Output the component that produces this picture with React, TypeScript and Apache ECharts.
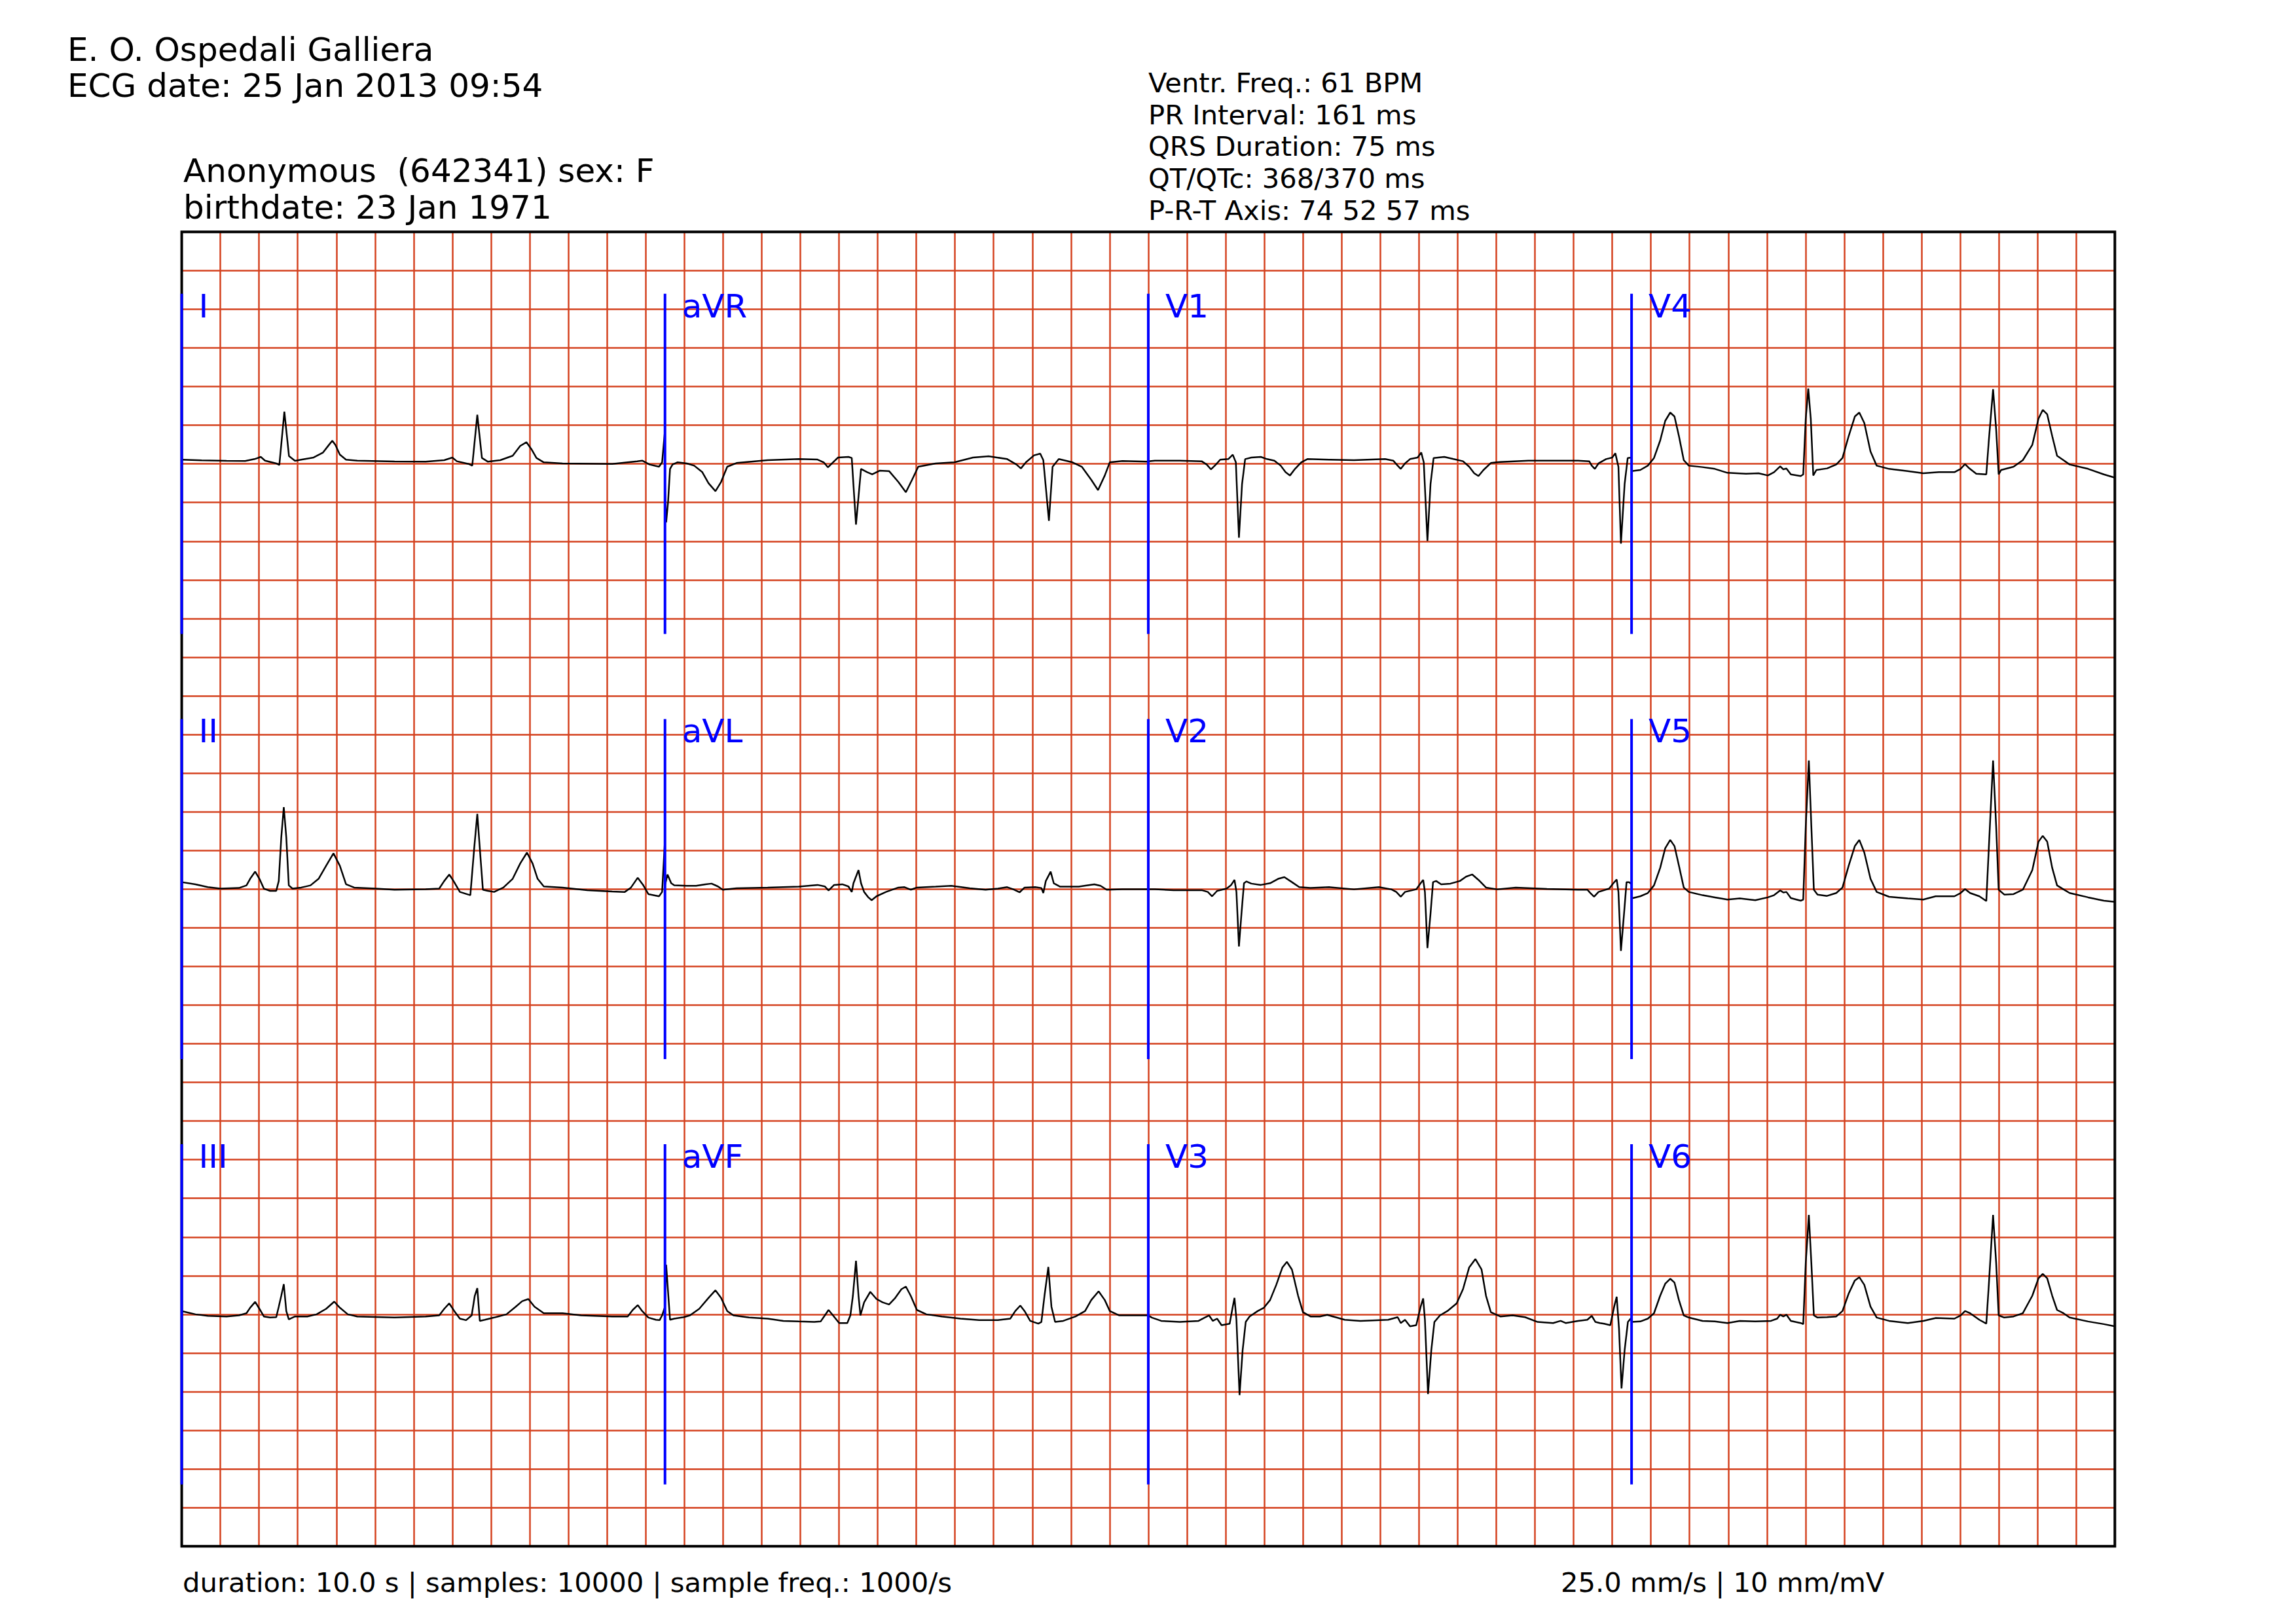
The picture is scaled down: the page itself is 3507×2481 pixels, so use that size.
import React, { useEffect, useRef } from 'react';
import * as echarts from 'echarts';

// ---- Layout of leads (rows x columns) ----
const layoutRows: string[][] = [
  ['I', 'aVR', 'V1', 'V4'],
  ['II', 'aVL', 'V2', 'V5'],
  ['III', 'aVF', 'V3', 'V6'],
];

// ---- Trace data: [seconds from column start, mV relative to lead baseline] ----
const leadI = [[0,0.054],[0.103,0.045],[0.232,0.04],[0.328,0.037],[0.377,0.062],[0.409,0.09],[0.431,0.042],[0.489,0.006],[0.505,-0.014],[0.531,0.675],[0.555,0.10],[0.586,0.04],[0.618,0.054],[0.682,0.082],[0.731,0.147],[0.763,0.25],[0.779,0.30],[0.795,0.245],[0.818,0.12],[0.85,0.054],[0.908,0.042],[1.101,0.031],[1.262,0.028],[1.358,0.048],[1.40,0.082],[1.423,0.034],[1.487,-0.003],[1.503,-0.023],[1.529,0.636],[1.553,0.076],[1.584,0.028],[1.648,0.048],[1.712,0.105],[1.751,0.232],[1.783,0.28],[1.809,0.19],[1.835,0.076],[1.873,0.02],[1.97,0.006],[2.227,0],[2.356,0.034],[2.382,0.042],[2.42,-0.008],[2.469,-0.037],[2.485,0.02],[2.5,0.44]];
const leadAVR = [[0,-0.3],[0.006,-0.757],[0.016,-0.489],[0.026,-0.065],[0.039,-0.008],[0.064,0.02],[0.113,0.006],[0.151,-0.023],[0.193,-0.107],[0.225,-0.249],[0.261,-0.353],[0.29,-0.234],[0.322,-0.037],[0.37,0.011],[0.531,0.048],[0.692,0.062],[0.789,0.056],[0.821,0.02],[0.843,-0.045],[0.869,0.02],[0.895,0.082],[0.949,0.09],[0.966,0.076],[0.988,-0.785],[1.014,-0.065],[1.046,-0.107],[1.072,-0.136],[1.11,-0.088],[1.159,-0.093],[1.207,-0.234],[1.246,-0.367],[1.278,-0.206],[1.31,-0.037],[1.40,0.006],[1.497,0.02],[1.593,0.082],[1.674,0.099],[1.77,0.062],[1.818,-0.008],[1.841,-0.059],[1.867,0.02],[1.909,0.11],[1.941,0.133],[1.957,0.048],[1.986,-0.737],[2.005,-0.037],[2.037,0.062],[2.108,0.02],[2.156,-0.037],[2.205,-0.206],[2.24,-0.339],[2.275,-0.15],[2.301,0.02],[2.366,0.037],[2.5,0.028]];
const leadV1 = [[0,0.034],[0.034,0.042],[0.163,0.042],[0.276,0.034],[0.302,-0.008],[0.324,-0.071],[0.35,-0.008],[0.372,0.054],[0.414,0.062],[0.437,0.119],[0.453,0.02],[0.469,-0.955],[0.485,-0.263],[0.501,0.062],[0.533,0.082],[0.582,0.09],[0.614,0.062],[0.652,0.042],[0.685,-0.023],[0.71,-0.107],[0.733,-0.15],[0.759,-0.065],[0.791,0.02],[0.823,0.062],[0.936,0.054],[1.064,0.048],[1.225,0.062],[1.267,0.042],[1.29,-0.023],[1.306,-0.065],[1.328,0.006],[1.354,0.062],[1.393,0.082],[1.412,0.147],[1.425,0.02],[1.444,-0.997],[1.46,-0.263],[1.476,0.076],[1.531,0.09],[1.579,0.062],[1.628,0.034],[1.66,-0.037],[1.686,-0.121],[1.708,-0.158],[1.734,-0.079],[1.772,0.011],[1.821,0.025],[1.966,0.042],[2.223,0.042],[2.281,0.034],[2.294,-0.023],[2.31,-0.065],[2.329,0.006],[2.368,0.062],[2.40,0.082],[2.416,0.138],[2.432,-0.037],[2.445,-1.031],[2.464,-0.263],[2.48,0.076],[2.5,0.082]];
const leadV4 = [[0,-0.093],[0.045,-0.079],[0.084,-0.023],[0.116,0.076],[0.148,0.302],[0.174,0.556],[0.2,0.664],[0.222,0.613],[0.245,0.359],[0.27,0.048],[0.296,-0.023],[0.367,-0.042],[0.431,-0.065],[0.496,-0.116],[0.592,-0.127],[0.657,-0.121],[0.705,-0.15],[0.737,-0.107],[0.769,-0.031],[0.785,-0.071],[0.801,-0.059],[0.824,-0.136],[0.875,-0.158],[0.888,-0.136],[0.901,0.585],[0.914,0.975],[0.927,0.585],[0.94,-0.15],[0.956,-0.079],[1.011,-0.059],[1.059,-0.008],[1.091,0.076],[1.123,0.359],[1.155,0.613],[1.178,0.664],[1.204,0.528],[1.236,0.161],[1.268,-0.023],[1.332,-0.065],[1.429,-0.093],[1.509,-0.121],[1.59,-0.107],[1.67,-0.107],[1.702,-0.065],[1.725,-0.003],[1.744,-0.051],[1.783,-0.127],[1.835,-0.136],[1.848,0.302],[1.87,0.966],[1.886,0.444],[1.899,-0.136],[1.912,-0.079],[1.976,-0.037],[2.024,0.048],[2.073,0.246],[2.105,0.585],[2.127,0.698],[2.15,0.641],[2.176,0.359],[2.201,0.105],[2.234,0.048],[2.266,-0.008],[2.362,-0.065],[2.443,-0.136],[2.5,-0.178]];
const leadII = [[0,0.09],[0.071,0.062],[0.135,0.025],[0.2,0.006],[0.296,0.014],[0.335,0.048],[0.354,0.133],[0.38,0.226],[0.402,0.133],[0.425,0.006],[0.457,-0.023],[0.489,-0.023],[0.502,0.105],[0.515,0.669],[0.528,1.059],[0.541,0.669],[0.554,0.048],[0.573,0.006],[0.618,0.02],[0.666,0.048],[0.708,0.133],[0.747,0.302],[0.785,0.463],[0.818,0.302],[0.85,0.062],[0.892,0.02],[1.004,0.006],[1.101,-0.008],[1.262,-0.003],[1.332,0.006],[1.358,0.105],[1.384,0.189],[1.406,0.105],[1.439,-0.037],[1.493,-0.079],[1.513,0.528],[1.529,0.972],[1.542,0.528],[1.558,-0.008],[1.584,-0.023],[1.616,-0.037],[1.664,0.02],[1.712,0.133],[1.751,0.331],[1.786,0.472],[1.815,0.331],[1.841,0.133],[1.873,0.034],[1.97,0.02],[2.098,-0.014],[2.227,-0.031],[2.292,-0.037],[2.324,0.02],[2.359,0.147],[2.388,0.048],[2.414,-0.065],[2.469,-0.093],[2.485,-0.037],[2.5,0.65]];
const leadAVL = [[0,0.05],[0.013,0.189],[0.032,0.076],[0.048,0.048],[0.113,0.042],[0.161,0.042],[0.209,0.062],[0.241,0.071],[0.274,0.034],[0.299,-0.008],[0.37,0.011],[0.531,0.02],[0.692,0.031],[0.789,0.054],[0.827,0.034],[0.846,-0.017],[0.875,0.054],[0.917,0.062],[0.949,0.034],[0.966,-0.037],[0.975,0.076],[1.001,0.246],[1.014,0.076],[1.03,-0.037],[1.052,-0.107],[1.069,-0.144],[1.094,-0.093],[1.143,-0.037],[1.207,0.02],[1.239,0.025],[1.271,-0.008],[1.303,0.02],[1.4,0.031],[1.481,0.042],[1.577,0.011],[1.658,-0.008],[1.722,0.006],[1.77,0.025],[1.802,-0.003],[1.834,-0.042],[1.86,0.02],[1.915,0.025],[1.947,0.014],[1.957,-0.051],[1.97,0.105],[1.995,0.226],[2.011,0.076],[2.044,0.031],[2.14,0.031],[2.221,0.062],[2.253,0.042],[2.285,-0.008],[2.366,-0.003],[2.5,-0.003]];
const leadV2 = [[0,-0.003],[0.034,-0.003],[0.131,-0.014],[0.276,-0.014],[0.308,-0.037],[0.33,-0.093],[0.356,-0.023],[0.405,0.006],[0.427,0.048],[0.446,0.119],[0.456,-0.037],[0.469,-0.743],[0.482,-0.319],[0.495,0.076],[0.508,0.099],[0.533,0.071],[0.582,0.054],[0.63,0.076],[0.672,0.133],[0.704,0.155],[0.743,0.09],[0.781,0.025],[0.839,0.014],[0.936,0.025],[1.064,-0.003],[1.193,0.025],[1.257,-0.003],[1.283,-0.037],[1.306,-0.099],[1.328,-0.037],[1.386,-0.003],[1.409,0.076],[1.422,0.119],[1.431,-0.037],[1.444,-0.763],[1.46,-0.319],[1.473,0.09],[1.489,0.105],[1.515,0.062],[1.563,0.071],[1.612,0.105],[1.644,0.161],[1.676,0.189],[1.708,0.119],[1.747,0.02],[1.805,-0.003],[1.901,0.02],[2.062,0.003],[2.223,-0.008],[2.271,-0.008],[2.287,-0.051],[2.306,-0.099],[2.329,-0.037],[2.384,0.006],[2.406,0.076],[2.423,0.124],[2.432,-0.037],[2.445,-0.799],[2.461,-0.319],[2.474,0.09],[2.487,0.09],[2.5,0.062]];
const leadV5 = [[0,-0.121],[0.045,-0.093],[0.084,-0.051],[0.116,0.048],[0.148,0.274],[0.174,0.528],[0.2,0.636],[0.222,0.556],[0.245,0.302],[0.27,0.02],[0.296,-0.037],[0.367,-0.079],[0.431,-0.107],[0.496,-0.136],[0.56,-0.121],[0.64,-0.144],[0.705,-0.107],[0.737,-0.079],[0.769,-0.017],[0.785,-0.045],[0.801,-0.037],[0.824,-0.116],[0.875,-0.15],[0.888,-0.136],[0.901,0.811],[0.917,1.664],[0.93,0.811],[0.943,-0.008],[0.962,-0.071],[1.011,-0.088],[1.059,-0.051],[1.091,0.02],[1.123,0.302],[1.155,0.556],[1.178,0.636],[1.204,0.472],[1.236,0.133],[1.268,-0.037],[1.332,-0.099],[1.429,-0.121],[1.509,-0.136],[1.573,-0.093],[1.67,-0.093],[1.702,-0.051],[1.725,0],[1.751,-0.051],[1.799,-0.093],[1.835,-0.155],[1.848,0.528],[1.87,1.664],[1.886,0.811],[1.899,-0.008],[1.928,-0.071],[1.976,-0.065],[2.024,-0.008],[2.073,0.246],[2.105,0.613],[2.127,0.689],[2.15,0.613],[2.176,0.274],[2.201,0.048],[2.234,-0.003],[2.266,-0.051],[2.362,-0.107],[2.443,-0.15],[2.5,-0.164]];
const leadIII = [[0,0.042],[0.071,0],[0.135,-0.02],[0.232,-0.028],[0.296,-0.014],[0.335,0.014],[0.354,0.085],[0.38,0.161],[0.402,0.071],[0.425,-0.028],[0.457,-0.042],[0.489,-0.037],[0.502,0.099],[0.515,0.24],[0.528,0.39],[0.541,0.042],[0.554,-0.065],[0.586,-0.028],[0.65,-0.028],[0.698,0],[0.747,0.071],[0.789,0.164],[0.818,0.085],[0.859,0],[0.908,-0.028],[1.004,-0.034],[1.101,-0.042],[1.262,-0.028],[1.332,-0.014],[1.358,0.071],[1.384,0.141],[1.41,0.042],[1.439,-0.056],[1.471,-0.076],[1.5,-0.014],[1.516,0.24],[1.529,0.339],[1.542,-0.085],[1.568,-0.071],[1.616,-0.042],[1.68,0],[1.728,0.099],[1.761,0.169],[1.793,0.198],[1.825,0.099],[1.873,0.014],[1.97,0.014],[2.066,-0.014],[2.227,-0.028],[2.307,-0.028],[2.333,0.056],[2.359,0.119],[2.382,0.042],[2.414,-0.042],[2.453,-0.071],[2.472,-0.076],[2.485,-0.014],[2.5,0.1]];
const leadAVF = [[0,0.1],[0.006,0.641],[0.026,-0.071],[0.048,-0.056],[0.097,-0.037],[0.129,-0.014],[0.177,0.071],[0.225,0.212],[0.261,0.311],[0.29,0.212],[0.322,0.042],[0.354,-0.014],[0.435,-0.042],[0.531,-0.056],[0.612,-0.085],[0.692,-0.093],[0.772,-0.099],[0.805,-0.093],[0.827,-0.014],[0.846,0.056],[0.869,-0.014],[0.901,-0.113],[0.943,-0.113],[0.959,-0.014],[0.972,0.24],[0.988,0.692],[1.001,0.24],[1.011,-0.014],[1.03,0.155],[1.062,0.291],[1.094,0.198],[1.126,0.155],[1.159,0.127],[1.191,0.212],[1.223,0.325],[1.246,0.359],[1.271,0.24],[1.303,0.056],[1.352,0],[1.432,-0.028],[1.529,-0.056],[1.625,-0.076],[1.722,-0.076],[1.786,-0.056],[1.812,0.042],[1.838,0.113],[1.86,0.042],[1.889,-0.085],[1.931,-0.121],[1.947,-0.099],[1.963,0.24],[1.983,0.613],[1.999,0.099],[2.018,-0.099],[2.06,-0.085],[2.124,-0.028],[2.173,0.042],[2.205,0.184],[2.243,0.297],[2.275,0.184],[2.301,0.042],[2.35,-0.014],[2.43,-0.014],[2.5,-0.014]];
const leadV3 = [[0,-0.014],[0.018,-0.042],[0.067,-0.085],[0.163,-0.099],[0.26,-0.085],[0.292,-0.042],[0.314,-0.014],[0.334,-0.085],[0.356,-0.056],[0.379,-0.141],[0.421,-0.121],[0.437,0.099],[0.446,0.212],[0.456,-0.071],[0.472,-1.045],[0.488,-0.466],[0.504,-0.099],[0.524,-0.028],[0.566,0.042],[0.598,0.085],[0.63,0.184],[0.662,0.381],[0.694,0.607],[0.717,0.678],[0.743,0.579],[0.775,0.24],[0.8,0.028],[0.839,-0.028],[0.887,-0.028],[0.926,-0.008],[0.968,-0.037],[1.016,-0.071],[1.097,-0.085],[1.241,-0.071],[1.29,-0.037],[1.306,-0.113],[1.328,-0.071],[1.354,-0.155],[1.386,-0.141],[1.409,0.099],[1.422,0.206],[1.431,-0.071],[1.447,-1.031],[1.464,-0.466],[1.48,-0.099],[1.509,-0.014],[1.547,0.042],[1.595,0.141],[1.628,0.325],[1.66,0.607],[1.692,0.715],[1.724,0.579],[1.747,0.24],[1.772,0.028],[1.821,-0.028],[1.885,-0.014],[1.949,-0.037],[2.014,-0.099],[2.094,-0.113],[2.133,-0.085],[2.159,-0.113],[2.223,-0.085],[2.271,-0.071],[2.294,-0.02],[2.313,-0.099],[2.336,-0.113],[2.358,-0.121],[2.39,-0.141],[2.41,0.099],[2.423,0.226],[2.435,-0.184],[2.448,-0.96],[2.464,-0.466],[2.481,-0.099],[2.5,-0.042]];
const leadV6 = [[0,-0.099],[0.045,-0.093],[0.084,-0.056],[0.116,0.014],[0.148,0.24],[0.174,0.395],[0.2,0.46],[0.222,0.41],[0.245,0.184],[0.27,-0.014],[0.296,-0.042],[0.367,-0.085],[0.431,-0.093],[0.496,-0.113],[0.56,-0.085],[0.64,-0.093],[0.721,-0.085],[0.753,-0.056],[0.769,-0.006],[0.785,-0.028],[0.801,-0.006],[0.824,-0.085],[0.875,-0.113],[0.888,-0.127],[0.901,0.664],[0.917,1.285],[0.93,0.664],[0.943,-0.014],[0.962,-0.042],[1.011,-0.037],[1.059,-0.028],[1.091,0.042],[1.123,0.268],[1.155,0.438],[1.178,0.48],[1.204,0.381],[1.236,0.099],[1.268,-0.042],[1.332,-0.085],[1.429,-0.113],[1.509,-0.085],[1.574,-0.048],[1.67,-0.056],[1.702,-0.014],[1.725,0.042],[1.751,0.014],[1.799,-0.071],[1.835,-0.121],[1.848,0.381],[1.87,1.285],[1.886,0.664],[1.899,-0.014],[1.928,-0.042],[1.976,-0.028],[2.024,0.014],[2.073,0.24],[2.105,0.466],[2.127,0.523],[2.15,0.466],[2.176,0.24],[2.201,0.056],[2.234,0.014],[2.266,-0.042],[2.362,-0.093],[2.443,-0.127],[2.5,-0.155]];

const leadData: Record<string, number[][]> = {
  I: leadI, aVR: leadAVR, V1: leadV1, V4: leadV4,
  II: leadII, aVL: leadAVL, V2: leadV2, V5: leadV5,
  III: leadIII, aVF: leadAVF, V3: leadV3, V6: leadV6,
};

// ---- Texts ----
const headerLines = ['E. O. Ospedali Galliera', 'ECG date: 25 Jan 2013 09:54'];
const patientLines = ['Anonymous  (642341) sex: F', 'birthdate: 23 Jan 1971'];
const measurementLines = ['Ventr. Freq.: 61 BPM', 'PR Interval: 161 ms', 'QRS Duration: 75 ms', 'QT/QTc: 368/370 ms', 'P-R-T Axis: 74 52 57 ms'];
const footerLeft = 'duration: 10.0 s | samples: 10000 | sample freq.: 1000/s';
const footerRight = '25.0 mm/s | 10 mm/mV';

// ---- Paper scales ----
const TOTAL_SECONDS = 10;
const COLUMN_SECONDS = 2.5;
const TOTAL_MV = 17;
const ROW_BASELINES = [14, 8.5, 3];
const MARKER_HALF = 2.2;

const W = 3507;
const H = 2481;
const PX_MM = 300 / 25.4;
const FONT = '"DejaVu Sans", sans-serif';
const GRID_RED = '#d4421f';
const CENTRAL = 0.346;

function textEl(x: number, baseline: number, text: string, fs: number, color = '#000') {
  return {
    type: 'text',
    x,
    y: baseline - CENTRAL * fs,
    z: 20,
    style: {
      text,
      fill: color,
      fontSize: fs,
      fontFamily: FONT,
      align: 'left',
      textAlign: 'left',
      verticalAlign: 'middle',
      textVerticalAlign: 'middle',
    },
  };
}

export default function App() {
  const ref = useRef<HTMLDivElement>(null);
  useEffect(() => {
    if (!ref.current) return;
    const chart = echarts.init(ref.current, null, { renderer: 'svg', width: W, height: H });
    const gridLeft = 23.5 * PX_MM;
    const gridTop = 30 * PX_MM;
    const gridW = 250 * PX_MM;
    const gridH = 170 * PX_MM;

    const series: any[] = [];
    layoutRows.forEach((row, r) => {
      row.forEach((name, c) => {
        const x0 = c * COLUMN_SECONDS;
        const base = ROW_BASELINES[r];
        series.push({
          type: 'line',
          name,
          data: leadData[name].map(([t, v]) => [x0 + t, base + v]),
          showSymbol: false,
          symbol: 'none',
          lineStyle: { color: '#000', width: 2.5 },
          z: 3,
          silent: true,
        });
        series.push({
          type: 'line',
          name: name + '-marker',
          data: [[x0, base - MARKER_HALF], [x0, base + MARKER_HALF]],
          showSymbol: false,
          symbol: 'none',
          lineStyle: { color: '#0000ff', width: 4 },
          z: 4,
          silent: true,
        });
      });
    });

    chart.setOption({
      animation: false,
      backgroundColor: '#fff',
      grid: { left: gridLeft, top: gridTop, width: gridW, height: gridH, show: false },
      xAxis: {
        type: 'value', min: 0, max: TOTAL_SECONDS, interval: 0.2,
        axisLine: { show: false }, axisTick: { show: false }, axisLabel: { show: false },
        splitLine: { show: true, lineStyle: { color: GRID_RED, width: 2.5 } },
      },
      yAxis: {
        type: 'value', min: 0, max: TOTAL_MV, interval: 0.5,
        axisLine: { show: false }, axisTick: { show: false }, axisLabel: { show: false },
        splitLine: { show: true, lineStyle: { color: GRID_RED, width: 2.5 } },
      },
      series,
    });

    const graphics: any[] = [];
    graphics.push({
      type: 'rect', z: 2,
      shape: { x: gridLeft, y: gridTop, width: gridW, height: gridH },
      style: { fill: 'none', stroke: '#000', lineWidth: 4 },
      silent: true,
    });
    headerLines.forEach((t, i) => graphics.push(textEl(103, 93 + i * 55, t, 50)));
    patientLines.forEach((t, i) => graphics.push(textEl(280, 278 + i * 56, t, 50)));
    measurementLines.forEach((t, i) => graphics.push(textEl(1754, 141 + i * 48.7, t, 41.7)));
    graphics.push(textEl(279, 2432, footerLeft, 41.7));
    graphics.push(textEl(2384, 2432, footerRight, 41.7));
    layoutRows.forEach((row, r) => {
      row.forEach((name, c) => {
        const p = chart.convertToPixel({ gridIndex: 0 }, [c * COLUMN_SECONDS + 0.088, ROW_BASELINES[r] + 1.894]) as number[];
        graphics.push(textEl(p[0], p[1], name, 50, '#0000ff'));
      });
    });
    chart.setOption({ graphic: { elements: graphics } });

    return () => chart.dispose();
  }, []);
  return <div ref={ref} style={{ position: 'absolute', left: 0, top: 0, width: W, height: H }} />;
}
